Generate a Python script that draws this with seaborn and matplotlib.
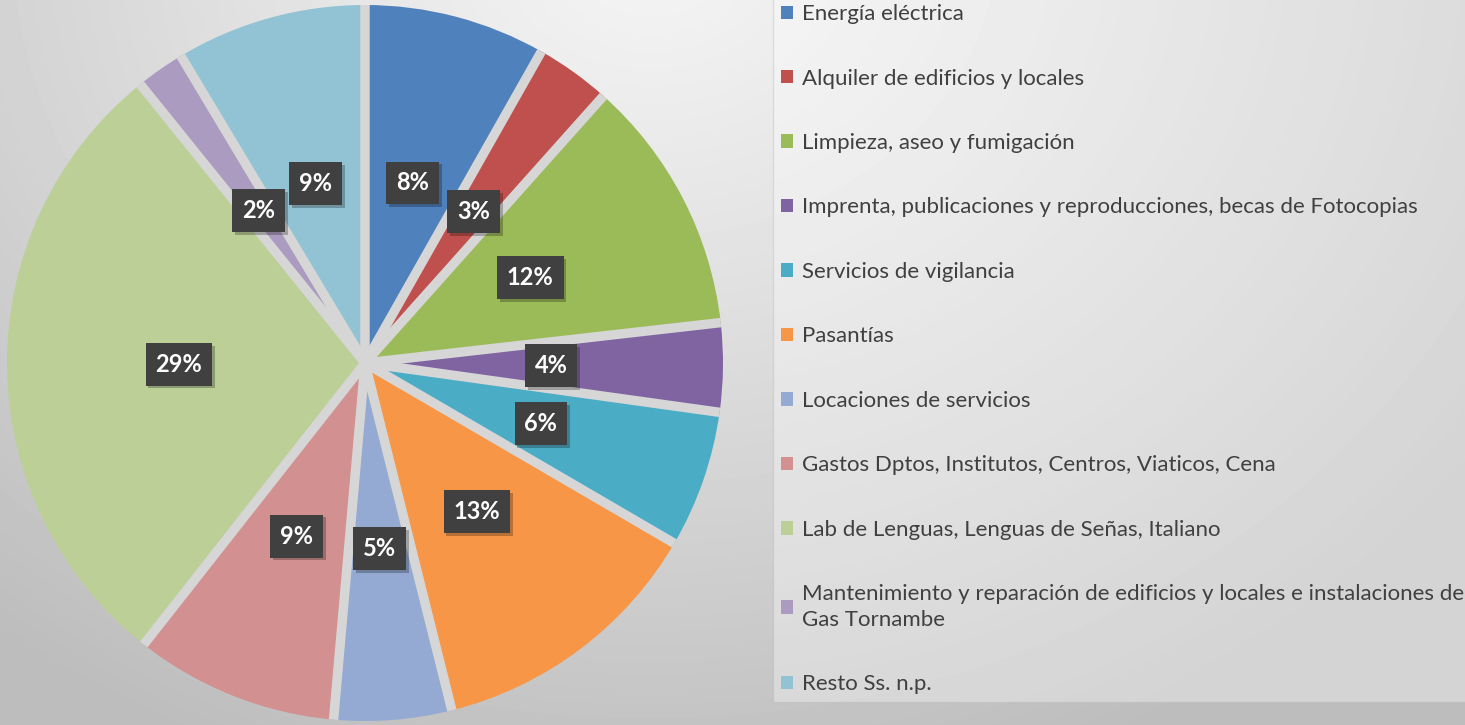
import matplotlib
matplotlib.use("Agg")
import matplotlib.pyplot as plt
import matplotlib.patheffects as pe
import seaborn as sns
import numpy as np

sns.set_style("white")
plt.rcParams['font.family'] = ['Lato', 'DejaVu Sans']

# Datos
# ==============================================================================
categorias = [
    "Energía eléctrica",
    "Alquiler de edificios y locales",
    "Limpieza, aseo y fumigación",
    "Imprenta, publicaciones y reproducciones, becas de Fotocopias",
    "Servicios de vigilancia",
    "Pasantías",
    "Locaciones de servicios",
    "Gastos Dptos, Institutos, Centros, Viaticos, Cena",
    "Lab de Lenguas, Lenguas de Señas, Italiano",
    "Mantenimiento y reparación de edificios y locales e instalaciones de\nGas Tornambe",
    "Resto Ss. n.p.",
]
porcentajes = [8.2, 3.4, 11.6, 4.0, 6.2, 12.7, 5.3, 9.2, 28.6, 2.2, 8.6]
colores = sns.color_palette([
    "#4F81BD", "#C0504D", "#9BBB59", "#8064A2", "#4BACC6", "#F79646",
    "#94AAD3", "#D29190", "#BBCF97", "#AB9BC0", "#92C3D4",
])

W, H = 1465, 725
fig = plt.figure(figsize=(W / 100, H / 100), dpi=100)

# Fondo con degradado radial
# ==============================================================================
bg = fig.add_axes([0, 0, 1, 1])
yy, xx = np.mgrid[0:H, 0:W]
d = np.sqrt(((xx - 650) / 1.0) ** 2 + ((yy + 60) / 0.85) ** 2) / 1000
val = np.clip(0.96 - 0.21 * d ** 1.1, 0.74, 0.96)
bg.imshow(val, cmap="gray", vmin=0, vmax=1, aspect="auto", extent=[0, W, H, 0])
bg.set_axis_off()

# Torta
# ==============================================================================
R = 358
cx, cy = 365, 363
ax = fig.add_axes([(cx - R) / W, (H - cy - R) / H, 2 * R / W, 2 * R / H])
ax.set_facecolor("none")
wedges, texts, autotexts = ax.pie(
    porcentajes, colors=colores, startangle=90, counterclock=False,
    autopct=lambda p: f"{p:.0f}%", pctdistance=0.52, radius=1,
    wedgeprops=dict(linewidth=0),
    textprops=dict(color="white", fontsize=17, fontweight="bold", zorder=5),
)
ax.set_xlim(-1, 1)
ax.set_ylim(-1, 1)
ax.set_aspect("auto")
ax.set_axis_off()

# separaciones entre porciones
angulos = sorted({round(w.theta1, 6) % 360 for w in wedges})
for a in angulos:
    t = np.deg2rad(a)
    ax.plot([0, np.cos(t)], [0, np.sin(t)], color="#d6d6d6", lw=6.8,
            solid_capstyle="butt", zorder=3)

for t in autotexts:
    t.set_bbox(dict(boxstyle="square,pad=0.42", facecolor="#404040", edgecolor="none"))
    t.get_bbox_patch().set_path_effects([
        pe.SimplePatchShadow(offset=(2, -2), shadow_rgbFace="black", alpha=0.25),
        pe.Normal(),
    ])

# Leyenda
# ==============================================================================
leg = fig.legend(
    wedges, categorias, loc="upper left", bbox_to_anchor=(773 / W, 1.005),
    fontsize=16, frameon=True, fancybox=False, framealpha=0.35,
    facecolor="white", edgecolor="#b5b5b5", handlelength=0.55, handleheight=0.55,
    handletextpad=0.4, labelspacing=2.0, borderpad=0.35, borderaxespad=0,
)
for txt in leg.get_texts():
    txt.set_color("#404040")
    txt.set_linespacing(1.35)
for h in leg.legend_handles:
    h.set_linewidth(0)

fig.savefig("out.png", dpi=100)
